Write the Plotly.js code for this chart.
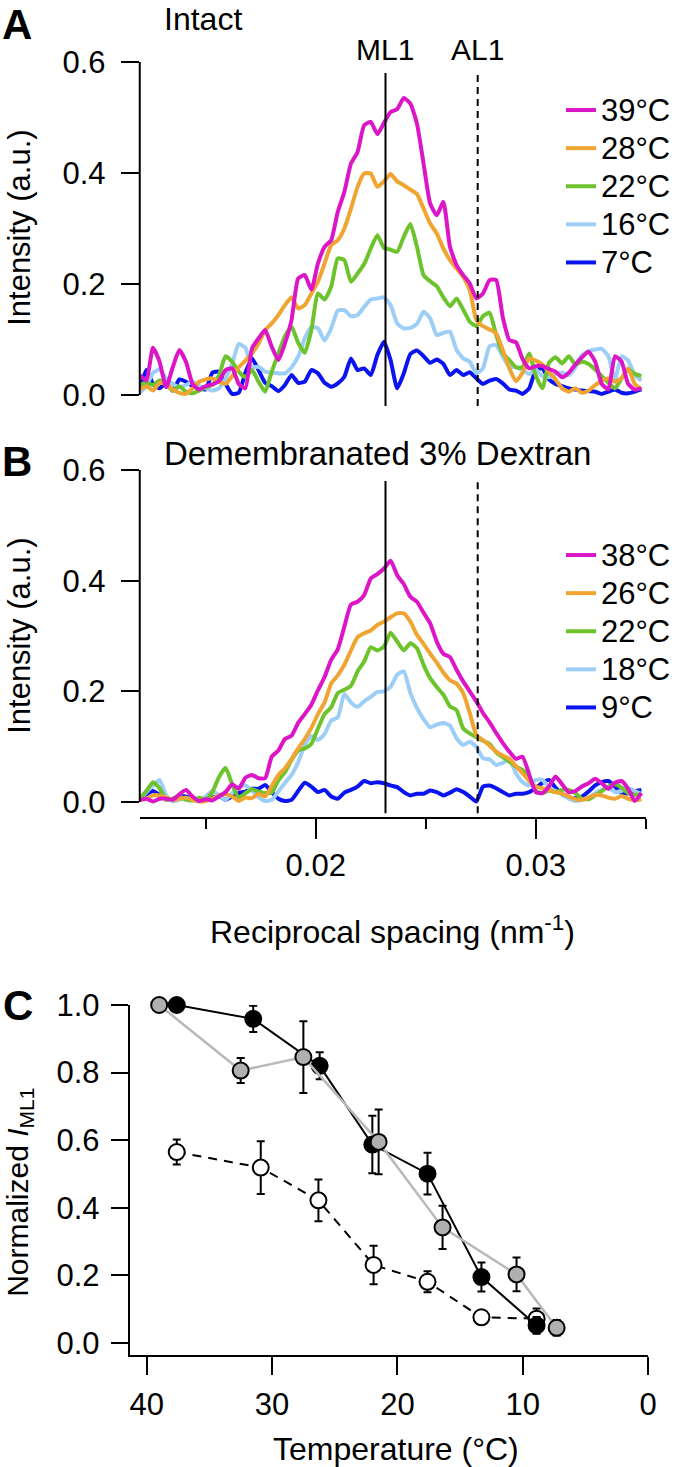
<!DOCTYPE html>
<html>
<head>
<meta charset="utf-8">
<script src="https://cdn.plot.ly/plotly-3.0.1.min.js"></script>
<style>
  body { margin: 0; padding: 0; background: white; }
  #fig { width: 676px; height: 1467px; }
</style>
</head>
<body>
<div id="fig"></div>
<script>
// reciprocal spacing grid (nm^-1), shared by panels A and B
const q = [
  0.0120, 0.0123, 0.0126, 0.0129, 0.0132, 0.0135, 0.0138, 0.0141, 0.0144, 0.0147,
  0.0150, 0.0153, 0.0156, 0.0159, 0.0162, 0.0165, 0.0168, 0.0171, 0.0174, 0.0177,
  0.0180, 0.0183, 0.0186, 0.0189, 0.0192, 0.0195, 0.0198, 0.0201, 0.0204, 0.0207,
  0.0210, 0.0213, 0.0216, 0.0219, 0.0222, 0.0225, 0.0228, 0.0231, 0.0234, 0.0237,
  0.0240, 0.0243, 0.0246, 0.0249, 0.0252, 0.0255, 0.0258, 0.0261, 0.0264, 0.0267,
  0.0270, 0.0273, 0.0276, 0.0279, 0.0282, 0.0285, 0.0288, 0.0291, 0.0294, 0.0297,
  0.0300, 0.0303, 0.0306, 0.0309, 0.0312, 0.0315, 0.0318, 0.0321, 0.0324, 0.0327,
  0.0330, 0.0333, 0.0336, 0.0339, 0.0342, 0.0345, 0.0348
];

// panel A - intact
const intact39 = [
  0.036, 0.026, 0.085, 0.060, 0.014, 0.050, 0.081, 0.060, 0.020, 0.010,
  0.016, 0.019, 0.025, 0.045, 0.048, 0.020, 0.012, 0.084, 0.102, 0.117,
  0.087, 0.063, 0.093, 0.135, 0.210, 0.216, 0.190, 0.237, 0.267, 0.279,
  0.330, 0.366, 0.417, 0.438, 0.486, 0.492, 0.470, 0.490, 0.510, 0.515,
  0.535, 0.525, 0.489, 0.417, 0.345, 0.324, 0.348, 0.267, 0.234, 0.216,
  0.201, 0.174, 0.183, 0.207, 0.207, 0.140, 0.099, 0.095, 0.065, 0.048,
  0.052, 0.052, 0.047, 0.042, 0.032, 0.040, 0.055, 0.068, 0.078, 0.060,
  0.020, 0.010, 0.070, 0.060, 0.020, 0.010, 0.012
];
const intact28 = [
  0.010, 0.016, 0.008, 0.022, 0.020, 0.010, 0.004, 0.002, 0.012, 0.024,
  0.028, 0.030, 0.024, 0.020, 0.034, 0.050, 0.062, 0.075, 0.093, 0.117,
  0.129, 0.144, 0.162, 0.176, 0.156, 0.162, 0.183, 0.204, 0.237, 0.270,
  0.279, 0.300, 0.336, 0.375, 0.399, 0.399, 0.375, 0.385, 0.398, 0.385,
  0.378, 0.370, 0.362, 0.336, 0.309, 0.291, 0.264, 0.243, 0.228, 0.213,
  0.189, 0.135, 0.124, 0.118, 0.111, 0.081, 0.048, 0.025, 0.040, 0.066,
  0.062, 0.055, 0.042, 0.028, 0.012, 0.006, 0.012, 0.004, 0.008, 0.018,
  0.025, 0.030, 0.024, 0.030, 0.048, 0.020, 0.010
];
const intact22 = [
  0.018, 0.022, 0.018, 0.026, 0.020, 0.008, 0.016, 0.006, 0.003, 0.008,
  0.014, 0.018, 0.035, 0.070, 0.060, 0.042, 0.032, 0.045, 0.024, 0.006,
  0.042, 0.075, 0.106, 0.123, 0.094, 0.076, 0.117, 0.183, 0.172, 0.195,
  0.246, 0.243, 0.204, 0.219, 0.236, 0.264, 0.288, 0.265, 0.262, 0.258,
  0.285, 0.308, 0.267, 0.216, 0.205, 0.196, 0.176, 0.160, 0.174, 0.154,
  0.132, 0.124, 0.142, 0.148, 0.108, 0.075, 0.063, 0.050, 0.050, 0.075,
  0.035, 0.012, 0.058, 0.068, 0.057, 0.070, 0.055, 0.060, 0.056, 0.046,
  0.034, 0.022, 0.012, 0.030, 0.046, 0.038, 0.034
];
const intact16 = [
  0.004, 0.016, 0.040, 0.046, 0.030, 0.020, 0.014, 0.018, 0.024, 0.016,
  0.012, 0.008, 0.012, 0.030, 0.056, 0.092, 0.085, 0.050, 0.051, 0.042,
  0.040, 0.039, 0.039, 0.050, 0.069, 0.102, 0.123, 0.120, 0.098, 0.120,
  0.152, 0.153, 0.142, 0.144, 0.159, 0.172, 0.174, 0.176, 0.162, 0.129,
  0.120, 0.121, 0.128, 0.150, 0.138, 0.108, 0.112, 0.114, 0.081, 0.066,
  0.060, 0.039, 0.048, 0.088, 0.090, 0.069, 0.051, 0.050, 0.045, 0.038,
  0.046, 0.034, 0.032, 0.038, 0.040, 0.036, 0.050, 0.072, 0.079, 0.082,
  0.083, 0.070, 0.028, 0.070, 0.062, 0.036, 0.026
];
const intact7 = [
  0.010, 0.045, 0.020, 0.012, 0.022, 0.008, 0.028, 0.024, 0.016, 0.012,
  0.010, 0.040, 0.042, 0.020, 0.002, 0.004, 0.040, 0.066, 0.045, 0.022,
  0.016, 0.007, 0.018, 0.036, 0.022, 0.024, 0.045, 0.039, 0.022, 0.015,
  0.021, 0.033, 0.066, 0.045, 0.048, 0.036, 0.072, 0.096, 0.063, 0.012,
  0.039, 0.074, 0.080, 0.070, 0.058, 0.064, 0.056, 0.036, 0.045, 0.036,
  0.041, 0.030, 0.020, 0.026, 0.029, 0.021, 0.010, 0.008, 0.002, 0.012,
  0.045, 0.048, 0.028, 0.020, 0.016, 0.012, 0.010, 0.008, 0.007, 0.006,
  0.002, 0.006, 0.010, 0.004, 0.003, 0.006, 0.010
];

// panel B - demembranated, 3% dextran
const demem38 = [
  0.004, 0.006, 0.001, 0.006, 0.006, 0.004, 0.014, 0.022, 0.010, 0.002,
  0.005, 0.003, 0.010, 0.018, 0.032, 0.024, 0.044, 0.049, 0.043, 0.043,
  0.082, 0.093, 0.114, 0.120, 0.143, 0.159, 0.176, 0.202, 0.226, 0.257,
  0.276, 0.317, 0.357, 0.362, 0.374, 0.404, 0.412, 0.422, 0.436, 0.410,
  0.394, 0.371, 0.362, 0.342, 0.323, 0.290, 0.268, 0.262, 0.239, 0.218,
  0.200, 0.182, 0.161, 0.144, 0.125, 0.107, 0.091, 0.078, 0.082, 0.050,
  0.018, 0.016, 0.028, 0.046, 0.032, 0.018, 0.020, 0.028, 0.034, 0.042,
  0.034, 0.024, 0.035, 0.038, 0.024, 0.002, 0.016
];
const demem26 = [
  0.004, 0.006, 0.012, 0.012, 0.008, 0.004, 0.006, 0.008, 0.004, 0.001,
  0.002, 0.006, 0.012, 0.014, 0.010, 0.002, 0.008, 0.007, 0.015, 0.010,
  0.029, 0.049, 0.061, 0.078, 0.097, 0.114, 0.134, 0.159, 0.180, 0.214,
  0.229, 0.248, 0.274, 0.298, 0.305, 0.310, 0.320, 0.326, 0.334, 0.341,
  0.341, 0.326, 0.302, 0.286, 0.268, 0.252, 0.234, 0.220, 0.214, 0.197,
  0.161, 0.121, 0.112, 0.102, 0.091, 0.084, 0.078, 0.065, 0.052, 0.038,
  0.028, 0.025, 0.022, 0.018, 0.015, 0.010, 0.005, 0.004, 0.008, 0.013,
  0.012, 0.008, 0.006, 0.011, 0.006, 0.003, 0.005
];
const demem22 = [
  0.006, 0.020, 0.036, 0.025, 0.004, 0.006, 0.010, 0.004, 0.003, 0.008,
  0.004, 0.018, 0.045, 0.062, 0.032, 0.008, 0.016, 0.023, 0.019, 0.016,
  0.017, 0.039, 0.054, 0.076, 0.093, 0.097, 0.105, 0.133, 0.159, 0.171,
  0.197, 0.203, 0.210, 0.236, 0.254, 0.280, 0.274, 0.281, 0.306, 0.290,
  0.274, 0.287, 0.278, 0.248, 0.224, 0.208, 0.194, 0.173, 0.166, 0.133,
  0.124, 0.117, 0.111, 0.105, 0.090, 0.081, 0.073, 0.064, 0.058, 0.046,
  0.020, 0.016, 0.021, 0.018, 0.022, 0.022, 0.016, 0.006, 0.005, 0.012,
  0.020, 0.028, 0.032, 0.026, 0.016, 0.013, 0.014
];
const demem18 = [
  0.003, 0.018, 0.030, 0.040, 0.012, 0.001, 0.004, 0.008, 0.004, 0.002,
  0.010, 0.020, 0.012, 0.004, 0.016, 0.028, 0.030, 0.021, 0.009, 0.002,
  0.004, 0.019, 0.035, 0.049, 0.072, 0.103, 0.120, 0.112, 0.123, 0.147,
  0.153, 0.195, 0.180, 0.172, 0.182, 0.190, 0.199, 0.200, 0.208, 0.230,
  0.236, 0.197, 0.170, 0.150, 0.135, 0.140, 0.143, 0.138, 0.115, 0.103,
  0.109, 0.100, 0.079, 0.077, 0.067, 0.071, 0.076, 0.052, 0.036, 0.030,
  0.040, 0.040, 0.026, 0.020, 0.014, 0.006, 0.002, 0.004, 0.008, 0.016,
  0.022, 0.026, 0.018, 0.020, 0.025, 0.020, 0.015
];
const demem9 = [
  0.006, 0.014, 0.020, 0.013, 0.005, 0.006, 0.010, 0.010, 0.006, 0.004,
  0.004, 0.008, 0.011, 0.004, 0.010, 0.016, 0.019, 0.024, 0.024, 0.031,
  0.018, 0.006, 0.002, 0.004, 0.020, 0.035, 0.028, 0.018, 0.022, 0.010,
  0.006, 0.017, 0.022, 0.028, 0.038, 0.034, 0.036, 0.034, 0.030, 0.027,
  0.018, 0.012, 0.015, 0.015, 0.021, 0.018, 0.012, 0.017, 0.023, 0.018,
  0.010, 0.001, 0.028, 0.030, 0.025, 0.018, 0.012, 0.015, 0.015, 0.018,
  0.025, 0.035, 0.040, 0.026, 0.014, 0.008, 0.007, 0.010, 0.019, 0.030,
  0.036, 0.038, 0.028, 0.016, 0.016, 0.020, 0.022
];

const labelsA = ['39°C', '28°C', '22°C', '16°C', '7°C'];
const labelsB = ['38°C', '26°C', '22°C', '18°C', '9°C'];
const colors = ['#dc16c6', '#f0a431', '#6cc32c', '#9dcef8', '#0a14f0'];

// marker reflection positions (nm^-1)
const ML1 = 0.02317;
const AL1 = 0.02736;

// panel C - normalized ML1 intensity vs temperature
const tempFilled = [37.6, 31.5, 26.2, 22.0, 17.6, 13.3, 8.9];
const normFilled = [1.0, 0.959, 0.820, 0.587, 0.501, 0.195, 0.052];
const errFilled = [0, 0.039, 0.040, 0.085, 0.062, 0.043, 0.025];

const tempGray = [39.0, 32.5, 27.5, 21.5, 16.4, 10.5, 7.3];
const normGray = [1.0, 0.806, 0.846, 0.595, 0.342, 0.203, 0.045];
const errGray = [0, 0.037, 0.106, 0.096, 0.064, 0.050, 0.023];

const tempOpen = [37.6, 30.9, 26.3, 21.9, 17.6, 13.3, 8.9];
const normOpen = [0.565, 0.519, 0.422, 0.231, 0.181, 0.076, 0.072];
const errOpen = [0.037, 0.078, 0.062, 0.057, 0.031, 0.012, 0.030];

const FONT = 'Liberation Sans, Arial, Helvetica, sans-serif';
const W = 676, H = 1467;
const px = v => v / W;          // pixel -> paper x
const py = v => 1 - v / H;      // pixel -> paper y

const seriesA = [intact39, intact28, intact22, intact16, intact7];
const seriesB = [demem38, demem26, demem22, demem18, demem9];

// legend text is drawn larger than the legend font so the rows stay tight
const legName = s => '<span style="font-size:31px">' + s + '</span>';

const traces = [];
// draw coldest first so the warm curves sit on top
for (let k = seriesA.length - 1; k >= 0; k--) {
  traces.push({
    x: q, y: seriesA[k], xaxis: 'x', yaxis: 'y',
    mode: 'lines', name: legName(labelsA[k]), legend: 'legend',
    line: { color: colors[k], width: 4, shape: 'spline', smoothing: 0.5 }
  });
}
for (let k = seriesB.length - 1; k >= 0; k--) {
  traces.push({
    x: q, y: seriesB[k], xaxis: 'x2', yaxis: 'y2',
    mode: 'lines', name: legName(labelsB[k]), legend: 'legend2',
    line: { color: colors[k], width: 4, shape: 'spline', smoothing: 0.5 }
  });
}

function errBars(arr) {
  return { type: 'data', array: arr, visible: true, color: 'black', thickness: 2, width: 4 };
}

traces.push({
  x: tempOpen, y: normOpen, xaxis: 'x3', yaxis: 'y3',
  mode: 'lines+markers', showlegend: false, cliponaxis: false,
  line: { color: 'black', width: 2, dash: '9px,7px' },
  marker: { size: 16, color: 'white', line: { color: 'black', width: 2 } },
  error_y: errBars(errOpen)
});
traces.push({
  x: tempFilled, y: normFilled, xaxis: 'x3', yaxis: 'y3',
  mode: 'lines+markers', showlegend: false, cliponaxis: false,
  line: { color: 'black', width: 2 },
  marker: { size: 16, color: 'black', line: { color: 'black', width: 2 } },
  error_y: errBars(errFilled)
});
traces.push({
  x: tempGray, y: normGray, xaxis: 'x3', yaxis: 'y3',
  mode: 'lines+markers', showlegend: false, cliponaxis: false,
  line: { color: '#b9b9b9', width: 2.5 },
  marker: { size: 16, color: '#b0b0b0', line: { color: 'black', width: 2 } },
  error_y: errBars(errGray)
});

const tickFont = { family: FONT, size: 31, color: 'black' };
const yIntensity = {
  range: [-0.027, 0.6], tickvals: [0, 0.2, 0.4, 0.6], tickformat: '.1f',
  ticks: 'outside', ticklen: 18, tickwidth: 2, tickcolor: 'black', ticklabelstandoff: 9,
  showline: false, showgrid: false, zeroline: false, tickfont: tickFont
};

const vline = (xr, yr, xv, dash) => ({
  type: 'line', xref: xr, yref: yr, x0: xv, x1: xv, y0: -0.02, y1: 0.58,
  line: { color: 'black', width: 2, dash: dash }
});
const yAxisLine = (xr, yr) => ({
  type: 'line', xref: xr, yref: yr, x0: 0, x1: 0, y0: 0, y1: 0.6,
  line: { color: 'black', width: 2 }
});

const txt = (text, x, y, size, opts) => Object.assign({
  text: text, x: x, y: y, xref: 'paper', yref: 'paper',
  xanchor: 'center', yanchor: 'middle', borderpad: 0,
  showarrow: false, font: { family: FONT, size: size, color: 'black' }
}, opts || {});

const legendBase = {
  x: px(566), xanchor: 'left', yanchor: 'top',
  traceorder: 'reversed', bgcolor: 'rgba(0,0,0,0)',
  font: { family: FONT, size: 27, color: 'black' }, itemwidth: 30
};

const layout = {
  width: W, height: H,
  margin: { l: 0, r: 0, t: 0, b: 0 },
  paper_bgcolor: 'white', plot_bgcolor: 'rgba(0,0,0,0)',
  font: { family: FONT, size: 30, color: 'black' },
  showlegend: true,
  xaxis: { domain: [px(141), px(652)], range: [0.012, 0.03502], anchor: 'y', visible: false },
  yaxis: Object.assign({ domain: [py(410), py(62)], anchor: 'x' }, yIntensity),
  xaxis2: {
    domain: [px(141), px(652)], range: [0.012, 0.03502], anchor: 'y2',
    showline: true, linewidth: 2, linecolor: 'black', showgrid: false, zeroline: false,
    ticks: 'outside', ticklen: 20, tickwidth: 2, tickcolor: 'black',
    tickmode: 'array', tickvals: [0.02, 0.03], ticktext: ['0.02', '0.03'],
    tickfont: tickFont, ticklabelstandoff: 0,
    minor: { tickmode: 'array', tickvals: [0.015, 0.025, 0.035], ticks: 'outside',
             ticklen: 10, tickwidth: 2, tickcolor: 'black', showgrid: false }
  },
  yaxis2: Object.assign({ domain: [py(817), py(470)], anchor: 'x2' }, yIntensity),
  xaxis3: {
    domain: [px(131), px(654)], range: [41.34, 0], anchor: 'y3',
    showline: true, linewidth: 2, linecolor: 'black', showgrid: false, zeroline: false,
    ticks: 'outside', ticklen: 18, tickwidth: 2, tickcolor: 'black',
    tickvals: [0, 10, 20, 30, 40], tickfont: tickFont, ticklabelstandoff: 3
  },
  yaxis3: {
    domain: [py(1355), py(1005)], range: [-0.0355, 1.0], anchor: 'x3',
    showline: true, linewidth: 2, linecolor: 'black', showgrid: false, zeroline: false,
    ticks: 'outside', ticklen: 17, tickwidth: 2, tickcolor: 'black', ticklabelstandoff: 5,
    tickvals: [0, 0.2, 0.4, 0.6, 0.8, 1.0], tickformat: '.1f', tickfont: tickFont
  },
  legend: Object.assign({ y: py(86) }, legendBase),
  legend2: Object.assign({ y: py(531) }, legendBase),
  shapes: [
    yAxisLine('x domain', 'y'),
    yAxisLine('x2 domain', 'y2'),
    vline('x', 'y', ML1, 'solid'),
    vline('x', 'y', AL1, '7px,5px'),
    vline('x2', 'y2', ML1, 'solid'),
    vline('x2', 'y2', AL1, '7px,5px')
  ],
  annotations: [
    txt('<b>A</b>', px(17), py(24), 42),
    txt('Intact', px(164), py(19), 32, { xanchor: 'left' }),
    txt('ML1', ML1, py(49), 30, { xref: 'x' }),
    txt('AL1', AL1, py(49), 30, { xref: 'x' }),
    txt('Intensity (a.u.)', px(19), py(228), 31, { textangle: -90 }),
    txt('<b>B</b>', px(17), py(461), 42),
    txt('Demembranated 3% Dextran', px(164), py(453), 33, { xanchor: 'left' }),
    txt('Intensity (a.u.)', px(19), py(636), 31, { textangle: -90 }),
    txt('Reciprocal spacing (nm<sup>-1</sup>)', px(396), py(930), 32),
    txt('<b>C</b>', px(18), py(1005), 42),
    txt('Normalized <i>I</i><sub>ML1</sub>', px(19), py(1192), 30, { textangle: -90 }),
    txt('Temperature (°C)', px(400), py(1449), 32)
  ]
};

Plotly.newPlot('fig', traces, layout, { displayModeBar: false, staticPlot: true });
</script>
</body>
</html>
